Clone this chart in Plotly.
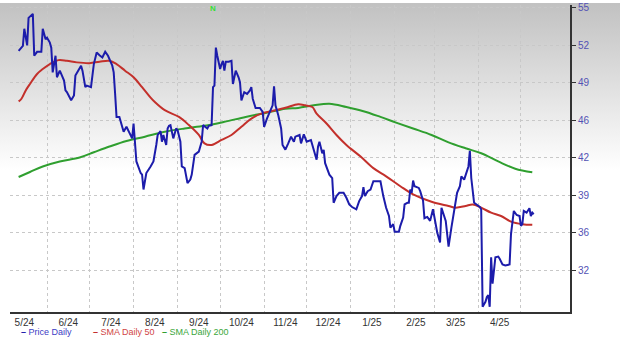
import base64
import plotly.graph_objects as go

# ---------------- data ----------------
price_dates = [
    "2024-05-12","2024-05-15","2024-05-16","2024-05-17","2024-05-18","2024-05-19","2024-05-22","2024-05-23",
    "2024-05-25","2024-05-28","2024-05-29","2024-05-31","2024-06-01","2024-06-03","2024-06-04","2024-06-05",
    "2024-06-06","2024-06-07","2024-06-08","2024-06-10","2024-06-11","2024-06-13","2024-06-14","2024-06-15",
    "2024-06-18","2024-06-20","2024-06-21","2024-06-25","2024-06-26","2024-06-28","2024-06-29","2024-07-02",
    "2024-07-04","2024-07-06","2024-07-08","2024-07-10","2024-07-12","2024-07-14","2024-07-17","2024-07-18",
    "2024-07-19","2024-07-20","2024-07-22","2024-07-25","2024-07-27","2024-07-29","2024-07-31","2024-08-01",
    "2024-08-03","2024-08-06","2024-08-07","2024-08-08","2024-08-10","2024-08-13","2024-08-15","2024-08-17",
    "2024-08-18","2024-08-20","2024-08-21","2024-08-22","2024-08-24","2024-08-25","2024-08-26","2024-08-27",
    "2024-08-29","2024-08-31","2024-09-01","2024-09-03","2024-09-04","2024-09-06","2024-09-08","2024-09-10",
    "2024-09-11","2024-09-13","2024-09-16","2024-09-18","2024-09-19","2024-09-22","2024-09-23","2024-09-25",
    "2024-09-26","2024-09-27","2024-09-28","2024-09-29","2024-10-01","2024-10-02","2024-10-03","2024-10-04",
    "2024-10-05","2024-10-07","2024-10-09","2024-10-10","2024-10-12","2024-10-14","2024-10-15","2024-10-16",
    "2024-10-18","2024-10-20","2024-10-22","2024-10-23","2024-10-24","2024-10-26","2024-10-29","2024-10-31",
    "2024-11-01","2024-11-03","2024-11-05","2024-11-07","2024-11-08","2024-11-09","2024-11-11","2024-11-13",
    "2024-11-14","2024-11-16","2024-11-18","2024-11-20","2024-11-22","2024-11-23","2024-11-26","2024-11-27",
    "2024-11-29","2024-12-01","2024-12-04","2024-12-06","2024-12-08","2024-12-09","2024-12-10","2024-12-12",
    "2024-12-13","2024-12-14","2024-12-17","2024-12-19","2024-12-20","2024-12-22","2024-12-24","2024-12-27",
    "2024-12-29","2024-12-31","2025-01-02","2025-01-05","2025-01-07","2025-01-09","2025-01-10","2025-01-11",
    "2025-01-13","2025-01-15","2025-01-17","2025-01-19","2025-01-22","2025-01-24","2025-01-26","2025-01-28",
    "2025-01-29","2025-01-31","2025-02-01","2025-02-04","2025-02-05","2025-02-07","2025-02-08","2025-02-10",
    "2025-02-11","2025-02-12","2025-02-13","2025-02-14","2025-02-15","2025-02-18","2025-02-19","2025-02-21",
    "2025-02-22","2025-02-24","2025-02-26","2025-02-28","2025-03-01","2025-03-03","2025-03-05","2025-03-06",
    "2025-03-09","2025-03-11","2025-03-13","2025-03-15","2025-03-17","2025-03-19","2025-03-20","2025-03-22",
    "2025-03-24","2025-03-25","2025-03-26","2025-03-27","2025-03-29","2025-03-31","2025-04-02","2025-04-03",
    "2025-04-04","2025-04-06","2025-04-07","2025-04-08","2025-04-09","2025-04-10","2025-04-11","2025-04-13",
    "2025-04-15","2025-04-16","2025-04-18","2025-04-20","2025-04-23","2025-04-24","2025-04-26","2025-04-28",
    "2025-04-30","2025-05-01","2025-05-02","2025-05-03","2025-05-05","2025-05-07","2025-05-08","2025-05-09",
    "2025-05-10",
]
price_values = [
    51.63, 52.06, 53.57, 52.96, 52.11, 54.53, 54.88, 51.19,
    51.54, 51.54, 53.57, 52.64, 52.78, 52.35, 51.91, 49.73,
    50.61, 51.19, 49.30, 49.88, 49.59, 49.01, 48.14, 47.99,
    47.27, 47.70, 49.45, 50.32, 49.88, 48.43, 48.57, 48.43,
    50.46, 51.48, 51.24, 51.04, 51.54, 51.19, 50.32, 49.73,
    47.84, 45.81, 45.81, 44.50, 44.94, 44.36, 43.92, 45.23,
    41.89, 40.87, 40.73, 39.42, 40.87, 41.45, 41.89, 43.34,
    44.22, 44.56, 43.63, 44.22, 43.34, 44.79, 45.03, 45.09,
    43.92, 44.79, 44.65, 43.63, 41.45, 41.30, 39.99, 40.29,
    40.73, 42.47, 42.76, 43.63, 45.09, 44.79, 45.03, 45.09,
    48.43, 48.57, 51.91, 51.19, 50.02, 50.46, 50.75, 49.88,
    50.67, 50.67, 50.75, 48.71, 49.88, 49.30, 48.86, 47.27,
    47.99, 47.84, 48.14, 48.43, 47.41, 46.60, 46.60, 46.25,
    44.94, 45.66, 46.25, 46.83, 48.51, 46.83, 45.96, 44.79,
    43.34, 42.93, 43.48, 44.07, 43.63, 44.07, 44.22, 43.48,
    44.27, 43.63, 43.78, 42.91, 42.04, 43.20, 43.63, 42.61,
    42.91, 41.74, 40.73, 40.43, 38.25, 38.84, 39.13, 39.13,
    38.69, 38.11, 37.88, 37.68, 38.40, 38.84, 39.62, 38.84,
    39.27, 39.42, 40.15, 40.15, 40.15, 38.84, 37.82, 37.09,
    36.07, 36.37, 35.70, 35.70, 36.22, 36.95, 38.11, 38.25,
    38.25, 39.42, 39.13, 40.21, 39.71, 39.56, 39.27, 38.46,
    36.89, 37.01, 36.66, 37.68, 36.95, 35.64, 34.77, 37.82,
    36.66, 34.39, 36.07, 37.82, 39.13, 39.71, 40.58, 40.29,
    41.02, 41.45, 42.82, 40.43, 38.25, 38.05, 37.88, 37.68,
    29.10, 29.54, 29.97, 30.12, 29.10, 33.46, 31.14, 33.46,
    33.52, 33.32, 32.82, 32.74, 32.82, 35.50, 37.53, 37.18,
    37.09, 36.22, 36.37, 37.53, 37.38, 37.77, 37.09, 37.38,
    37.24,
]

sma50_dates = [
    "2024-05-12","2024-05-14","2024-05-17","2024-05-20","2024-05-25","2024-05-29","2024-06-03","2024-06-09",
    "2024-06-15","2024-06-22","2024-07-01","2024-07-08","2024-07-15","2024-07-20","2024-07-26","2024-08-01",
    "2024-08-07","2024-08-13","2024-08-16","2024-08-23","2024-09-02","2024-09-09","2024-09-16","2024-09-20",
    "2024-09-25","2024-10-02","2024-10-09","2024-10-16","2024-10-23","2024-10-30","2024-11-06","2024-11-16",
    "2024-11-25","2024-11-30","2024-12-05","2024-12-08","2024-12-15","2024-12-22","2024-12-29","2025-01-08",
    "2025-01-17","2025-01-26","2025-02-05","2025-02-14","2025-02-27","2025-03-11","2025-03-16","2025-03-23",
    "2025-03-28","2025-04-03","2025-04-10","2025-04-17","2025-04-24","2025-05-02","2025-05-09",
]
sma50_values = [
    47.18, 47.41, 48.14, 48.71, 49.59, 50.02, 50.46, 50.81,
    50.75, 50.61, 50.54, 50.67, 50.75, 50.46, 49.88, 49.30,
    48.43, 47.51, 47.12, 46.40, 45.81, 45.09, 44.22, 43.48,
    43.34, 43.78, 44.22, 44.94, 45.66, 46.10, 46.31, 46.61,
    46.92, 46.83, 46.68, 46.10, 45.23, 44.22, 43.34, 42.32,
    41.30, 40.58, 39.71, 38.99, 38.34, 37.97, 37.82, 37.97,
    38.11, 37.82, 37.38, 37.09, 36.60, 36.37, 36.31,
]

sma200_dates = [
    "2024-05-12","2024-05-20","2024-05-29","2024-06-10","2024-06-24","2024-07-04","2024-07-15","2024-07-27",
    "2024-08-09","2024-08-23","2024-09-06","2024-09-20","2024-10-04","2024-10-19","2024-11-02","2024-11-16",
    "2024-11-25","2024-12-06","2024-12-17","2024-12-29","2025-01-10","2025-01-22","2025-02-02","2025-02-14",
    "2025-02-27","2025-03-11","2025-03-23","2025-04-03","2025-04-15","2025-04-27","2025-05-09",
]
sma200_values = [
    40.52, 40.96, 41.45, 41.89, 42.24, 42.70, 43.20, 43.69,
    44.07, 44.50, 44.79, 45.03, 45.38, 45.81, 46.16, 46.53,
    46.60, 46.83, 46.97, 46.68, 46.31, 45.81, 45.31, 44.79,
    44.22, 43.57, 43.05, 42.61, 41.89, 41.25, 40.93,
]

x_label_dates = [
    "2024-05-16","2024-06-16","2024-07-16","2024-08-16","2024-09-16","2024-10-16",
    "2024-11-16","2024-12-16","2025-01-16","2025-02-16","2025-03-16","2025-04-16",
]
x_labels = ["5/24","6/24","7/24","8/24","9/24","10/24","11/24","12/24","1/25","2/25","3/25","4/25"]
month_starts = [
    "2024-06-01","2024-07-01","2024-08-01","2024-09-01","2024-10-01","2024-11-01",
    "2024-12-01","2025-01-01","2025-02-01","2025-03-01","2025-04-01","2025-05-01",
]
y_tick_values = [32.3, 35.6, 38.9, 42.2, 45.5, 48.8, 52.1, 55.4]
y_tick_labels = ["32", "36", "39", "42", "46", "49", "52", "55"]

series_names = ["Price Daily", "SMA Daily 50", "SMA Daily 200"]
line_colors = ["#1c1cab", "#c3302b", "#2f9f2f"]
legend_text_colors = ["#3c3cc4", "#d04545", "#3aa63a"]
news_date = "2024-09-26"

# ---------------- figure ----------------
fig = go.Figure()
fig.add_trace(go.Scatter(x=sma200_dates, y=sma200_values, mode="lines", name=series_names[2],
                         line=dict(color=line_colors[2], width=2), line_shape="spline"))
fig.add_trace(go.Scatter(x=sma50_dates, y=sma50_values, mode="lines", name=series_names[1],
                         line=dict(color=line_colors[1], width=2), line_shape="spline"))
fig.add_trace(go.Scatter(x=price_dates, y=price_values, mode="lines", name=series_names[0],
                         line=dict(color=line_colors[0], width=2)))

# background gradient (grey at top fading to white)
svg = ('<svg xmlns="http://www.w3.org/2000/svg" width="620" height="338" preserveAspectRatio="none">'
       '<defs><linearGradient id="g" x1="0" y1="0" x2="0" y2="1">'
       '<stop offset="0" stop-color="#c1c1c1"/><stop offset="0.5" stop-color="#ffffff"/>'
       '<stop offset="1" stop-color="#ffffff"/></linearGradient></defs>'
       '<rect width="620" height="338" fill="url(#g)"/></svg>')
src = "data:image/svg+xml;base64," + base64.b64encode(svg.encode()).decode()
fig.add_layout_image(dict(source=src, xref="paper", yref="paper", x=-10/560, y=312/310,
                          sizex=620/560, sizey=338/310, sizing="stretch", xanchor="left",
                          yanchor="top", layer="below"))

grid_color = "#c8c8c8"

fig.update_layout(
    width=620, height=338,
    margin=dict(l=10, r=50, t=2, b=26),
    paper_bgcolor="#ffffff", plot_bgcolor="rgba(0,0,0,0)",
    showlegend=False,
    font=dict(family="Liberation Sans, Arial, sans-serif", size=10, color="#333333"),
    xaxis=dict(
        type="date",
        range=["2024-05-05 22:00", "2025-06-04 14:00"],
        tickvals=x_label_dates, ticktext=x_labels,
        showgrid=False, ticks="", zeroline=False,
        showline=True, linecolor="#333333", linewidth=2,
        tickfont=dict(size=10, color="#333333"),
        minor=dict(tickvals=month_starts, showgrid=True, gridcolor=grid_color,
                   gridwidth=1, griddash="dot", ticks=""),
    ),
    yaxis=dict(
        side="right", range=[28.64, 55.66],
        tickvals=y_tick_values, ticktext=y_tick_labels,
        showgrid=True, gridcolor=grid_color, gridwidth=1, griddash="dot",
        zeroline=False, showline=True, linecolor="#333333", linewidth=2,
        ticks="outside", ticklen=4, tickcolor="#333333", tickwidth=1,
        tickfont=dict(size=10, color="#5252b4"),
        ticklabeloverflow="allow",
    ),
)

# news marker
fig.add_annotation(x=news_date, y=312/310, xref="x", yref="paper", text="<b>N</b>", showarrow=False,
                   font=dict(size=8, color="#33e033"), yanchor="top", xanchor="center", borderpad=0)

# legend (below the axis)
legend_x = [20, 92, 161]
for name, lc, tc, px in zip(series_names, line_colors, legend_text_colors, legend_x):
    fig.add_annotation(
        x=(px - 10) / 560, y=(312 - 332) / 310, xref="paper", yref="paper",
        text=f"<span style='color:{lc}'><b>–</b></span> <span style='color:{tc}'>{name}</span>",
        showarrow=False, xanchor="left", yanchor="middle", borderpad=0,
        font=dict(size=9, family="Liberation Sans, Arial, sans-serif"),
    )

fig.write_html("out.html")
